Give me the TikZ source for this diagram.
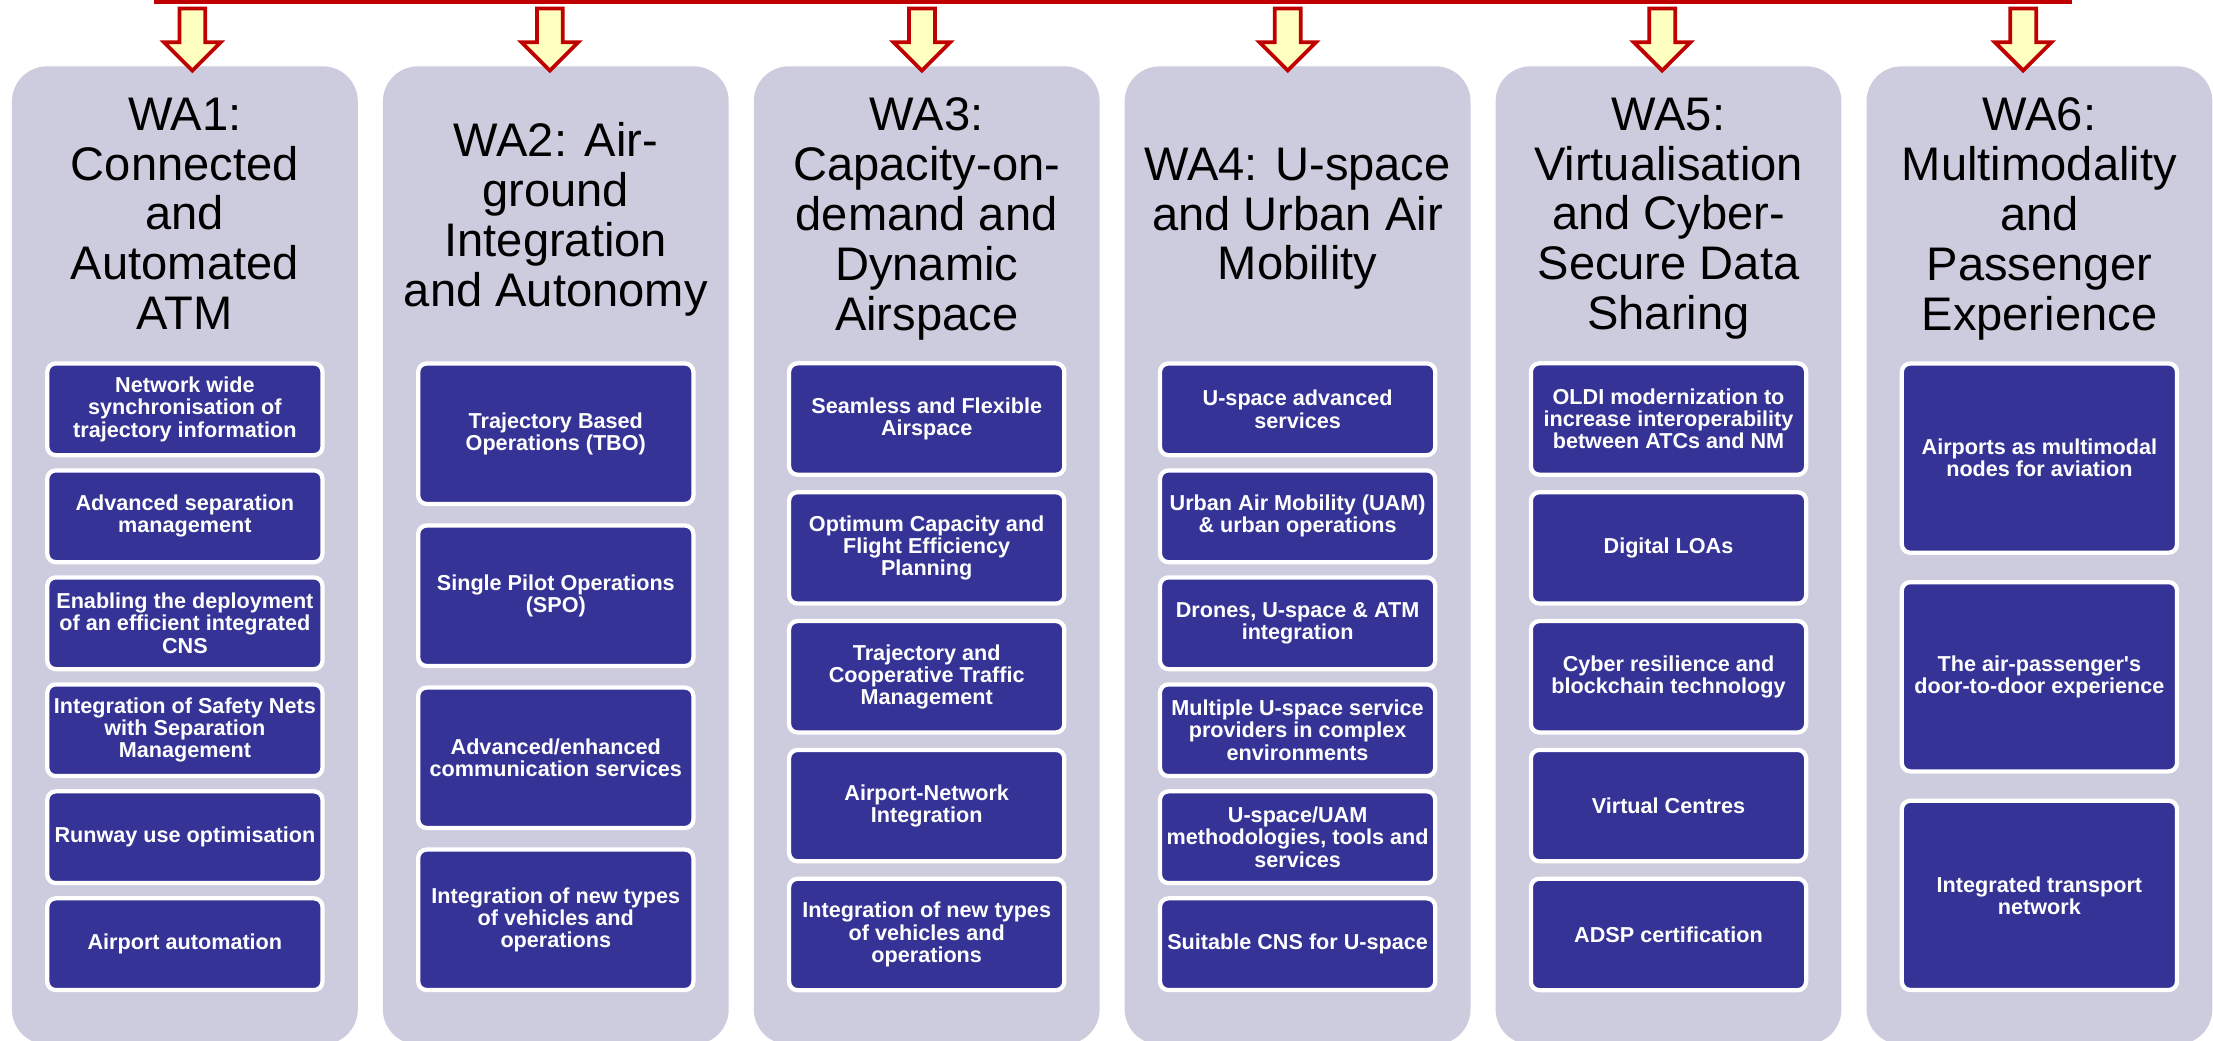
\documentclass[tikz,border=0pt]{standalone}
\usepackage{fontspec}
\setmainfont{Liberation Sans}
\definecolor{colbg}{RGB}{205,204,222}
\definecolor{boxblue}{RGB}{53,51,150}
\definecolor{arrowred}{RGB}{192,0,0}
\definecolor{arrowfill}{RGB}{255,255,192}

\begin{document}
\begin{tikzpicture}[x=0.2822mm, y=-0.2822mm,
    column/.style={fill=colbg, rounded corners=7mm, minimum width=69.14mm, minimum height=195.56mm, inner sep=0pt},
    watitle/.style={anchor=north, align=center, inner sep=0pt, font=\fontsize{26.8}{28.4}\selectfont},
    item/.style={fill=boxblue, draw=white, line width=0.85mm, rounded corners=1.7mm, text=white, align=center, inner sep=1pt, minimum width=55.03mm, font=\fontsize{12.3}{12.6}\selectfont\bfseries},
    item6/.style={item, minimum height=18.34mm},
    item5/.style={item, minimum height=22.27mm},
    item4/.style={item, minimum height=28.08mm},
    item3/.style={item, minimum height=37.84mm},
    warrow/.style={draw=arrowred, fill=arrowfill, line width=0.75mm},
    redline/.style={draw=arrowred, line width=0.7mm}]
            \useasboundingbox (0,0) rectangle (1568,737);
            \draw [redline] (110.4,-30) rectangle (1467,1.5);
            \node [column] (wa1) at (131,393.5) {};
            \node [column] (wa2) at (393.8,393.5) {};
            \node [column] (wa3) at (656.6,393.5) {};
            \node [column] (wa4) at (919.4,393.5) {};
            \node [column] (wa5) at (1182.2,393.5) {};
            \node [column] (wa6) at (1445,393.5) {};
            \filldraw [warrow] (136.3,50) -- ++(20,-20) -- ++(-10.8,0) -- ++(0,-24) -- ++(-18.4,0) -- ++(0,24) -- ++(-10.8,0) -- cycle;
            \filldraw [warrow] (389.6,50) -- ++(20,-20) -- ++(-10.8,0) -- ++(0,-24) -- ++(-18.4,0) -- ++(0,24) -- ++(-10.8,0) -- cycle;
            \filldraw [warrow] (653.2,50) -- ++(20,-20) -- ++(-10.8,0) -- ++(0,-24) -- ++(-18.4,0) -- ++(0,24) -- ++(-10.8,0) -- cycle;
            \filldraw [warrow] (912.4,50) -- ++(20,-20) -- ++(-10.8,0) -- ++(0,-24) -- ++(-18.4,0) -- ++(0,24) -- ++(-10.8,0) -- cycle;
            \filldraw [warrow] (1177.7,50) -- ++(20,-20) -- ++(-10.8,0) -- ++(0,-24) -- ++(-18.4,0) -- ++(0,24) -- ++(-10.8,0) -- cycle;
            \filldraw [warrow] (1433.5,50) -- ++(20,-20) -- ++(-10.8,0) -- ++(0,-24) -- ++(-18.4,0) -- ++(0,24) -- ++(-10.8,0) -- cycle;
            \node [watitle] (t1) at (131,69) {WA1:\\Connected\\and\\Automated\\ATM};
            \node [watitle] (t2) at (393.8,86.7) {WA2: Air-\\ground\\Integration\\and Autonomy};
            \node [watitle] (t3) at (656.6,69) {WA3:\\Capacity-on-\\demand and\\Dynamic\\Airspace};
            \node [watitle] (t4) at (919.4,104.4) {WA4: U-space\\and Urban Air\\Mobility};
            \node [watitle] (t5) at (1182.2,69) {WA5:\\Virtualisation\\and Cyber-\\Secure Data\\Sharing};
            \node [watitle] (t6) at (1445,69) {WA6:\\Multimodality\\and\\Passenger\\Experience};
            \node [item6] (a1) at (131,290) {Network wide\\synchronisation of\\trajectory information};
            \node [item6] (a2) at (131,365.8) {Advanced separation\\management};
            \node [item6] (a3) at (131,441.6) {Enabling the deployment\\of an efficient integrated\\CNS};
            \node [item6] (a4) at (131,517.4) {Integration of Safety Nets\\with Separation\\Management};
            \node [item6] (a5) at (131,593.2) {Runway use optimisation};
            \node [item6] (a6) at (131,669) {Airport automation};
            \node [item4] (b1) at (393.8,307.3) {Trajectory Based\\Operations (TBO)};
            \node [item4] (b2) at (393.8,422.1) {Single Pilot Operations\\(SPO)};
            \node [item4] (b3) at (393.8,536.9) {Advanced/enhanced\\communication services};
            \node [item4] (b4) at (393.8,651.7) {Integration of new types\\of vehicles and\\operations};
            \node [item5] (c1) at (656.6,296.9) {Seamless and Flexible\\Airspace};
            \node [item5] (c2) at (656.6,388.2) {Optimum Capacity and\\Flight Efficiency\\Planning};
            \node [item5] (c3) at (656.6,479.5) {Trajectory and\\Cooperative Traffic\\Management};
            \node [item5] (c4) at (656.6,570.8) {Airport-Network\\Integration};
            \node [item5] (c5) at (656.6,662.1) {Integration of new types\\of vehicles and\\operations};
            \node [item6] (d1) at (919.4,290) {U-space advanced\\services};
            \node [item6] (d2) at (919.4,365.8) {Urban Air Mobility (UAM)\\\& urban operations};
            \node [item6] (d3) at (919.4,441.6) {Drones, U-space \& ATM\\integration};
            \node [item6] (d4) at (919.4,517.4) {Multiple U-space service\\providers in complex\\environments};
            \node [item6] (d5) at (919.4,593.2) {U-space/UAM\\methodologies, tools and\\services};
            \node [item6] (d6) at (919.4,669) {Suitable CNS for U-space};
            \node [item5] (e1) at (1182.2,296.9) {OLDI modernization to\\increase interoperability\\between ATCs and NM};
            \node [item5] (e2) at (1182.2,388.2) {Digital LOAs};
            \node [item5] (e3) at (1182.2,479.5) {Cyber resilience and\\blockchain technology};
            \node [item5] (e4) at (1182.2,570.8) {Virtual Centres};
            \node [item5] (e5) at (1182.2,662.1) {ADSP certification};
            \node [item3] (f1) at (1445,324.6) {Airports as multimodal\\nodes for aviation};
            \node [item3] (f2) at (1445,479.5) {The air-passenger\textquotesingle s\\door-to-door experience};
            \node [item3] (f3) at (1445,634.4) {Integrated transport\\network};
\end{tikzpicture}
\end{document}
